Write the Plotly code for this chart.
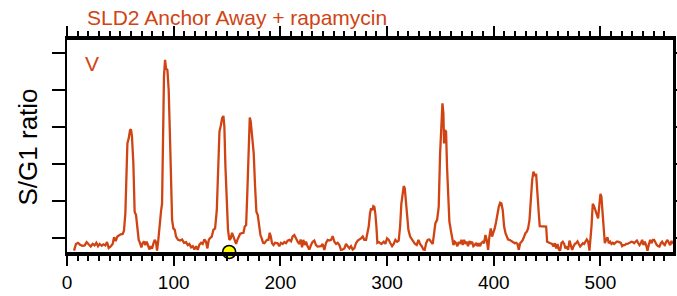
import plotly.graph_objects as go

# Position along chromosome (kb) and S/G1 ratio
pos_kb = [
    6.6, 8.4, 10.3, 12.2, 14.4, 16.6, 18.4, 20.3, 22.2, 24.1, 25.9, 27.5, 29.1, 30.6, 32.5, 34.1, 35.9, 37.5, 39.1, 40.9,
    42.8, 44.1, 45.6, 47.2, 48.8, 50.3, 52.2, 53.4, 54.7, 55.6, 56.6, 57.8, 59.1, 60.0, 60.9, 62.2, 63.4, 64.7, 65.9, 67.2,
    68.4, 69.7, 70.9, 72.2, 73.4, 74.7, 75.9, 77.2, 78.4, 79.7, 80.9, 82.2, 83.4, 84.4, 85.6, 86.9, 88.1, 89.1, 90.0, 90.9,
    91.9, 92.8, 94.1, 95.3, 96.6, 97.8,
    98.5, 99.7, 101.0, 102.2, 104.1, 106.0, 107.9, 109.7, 111.6, 113.2, 114.7, 116.3, 117.9, 119.4, 121.0, 122.5, 124.1,
    125.7, 127.2, 128.8, 130.3, 131.6, 132.9, 134.1, 135.7, 137.2, 138.8, 140.4, 141.6, 142.9, 144.1, 145.4, 146.6, 147.5,
    148.5, 149.7, 150.9, 152.2, 153.5, 154.7, 156.0, 157.2, 158.5, 159.7, 161.0, 162.2, 163.8, 165.4, 166.6, 167.9, 169.1,
    170.4, 171.3, 172.2, 173.2, 174.1, 175.0, 176.3, 177.5, 178.8, 180.0, 181.3, 182.5, 183.8, 185.0, 186.3, 187.5, 188.8,
    190.0, 191.0, 192.2, 193.5, 195.0,
    197.5, 199.0, 200.6, 202.2, 203.7, 205.3, 206.8, 208.4, 210.0, 211.5, 213.1, 214.7, 216.2, 217.8, 219.0, 220.3, 221.5,
    222.8, 224.0, 225.6, 227.1, 228.7, 230.3, 231.8, 233.4, 234.9, 236.5, 238.1, 239.6, 241.2, 242.8, 244.3, 245.9, 247.5,
    249.0, 250.6, 252.2, 253.7, 255.3, 256.8, 258.4, 260.0, 261.5, 263.1, 264.7, 266.2, 267.8, 269.3, 270.9, 272.5, 274.0,
    275.6, 277.2, 278.7, 280.3, 281.5, 282.8, 284.0, 285.0, 286.2, 287.1, 288.1, 289.0, 290.0, 290.9, 292.2, 293.4, 294.7,
    296.9, 298.4, 300.0, 301.6, 303.1, 304.7, 306.2, 307.8, 309.4, 310.9, 312.2, 313.4, 314.7, 315.6, 316.6, 317.5, 318.7,
    320.0, 321.6, 323.1, 324.7, 326.2, 327.8, 329.4, 330.9, 332.5, 334.1, 335.3, 336.6, 338.1, 339.7, 341.2, 342.8, 344.1,
    345.3, 346.9, 348.4, 349.7, 350.9, 351.9, 352.8, 353.4, 354.4, 355.3, 356.2, 357.2, 358.4, 359.7, 360.9, 362.2, 363.4,
    364.7, 365.9, 367.2, 368.4, 369.7, 370.9, 372.2, 373.4, 374.7, 375.9, 377.2, 378.4, 379.7, 380.9, 382.2, 383.4, 384.7,
    385.9, 387.2, 388.4, 389.7, 390.9, 392.2, 393.4, 394.7,
    395.9, 397.2, 398.4, 399.7, 400.9, 402.2, 403.4, 404.7, 406.0, 407.2, 408.4, 409.7, 411.0, 412.2, 413.4, 414.7, 416.0,
    417.2, 418.4, 419.7, 420.9, 422.2, 423.5, 424.7, 426.0, 427.2, 428.5, 429.7, 431.0, 432.2, 433.5, 434.7, 436.0, 437.2,
    438.5, 439.7, 441.0, 442.2, 443.1, 444.7, 446.3, 447.8, 449.1, 450.0, 451.6, 453.1, 454.7, 456.0, 457.2, 458.5, 459.7,
    461.0, 462.2, 463.5, 464.7, 466.0, 467.2, 468.5, 469.7, 471.0, 472.2, 473.5, 474.7, 476.0, 477.2, 478.5, 479.7, 481.0,
    482.2, 483.5, 484.7, 486.0, 487.2, 488.5, 489.7,
    491.6, 492.8, 494.0, 495.3, 496.6, 497.8, 499.1, 500.0, 500.9, 501.9, 502.8, 504.1, 505.3, 506.6, 507.8, 509.1, 510.3,
    511.6, 512.8, 514.1, 515.3, 516.6, 517.8, 519.1, 520.3, 521.6, 522.8, 524.1, 525.3, 526.6, 527.8, 529.1, 530.3, 531.6,
    532.8, 534.1, 535.3, 536.6, 537.8, 539.1, 540.3, 541.6, 542.8, 544.1, 545.3, 546.6, 547.8, 549.1, 550.3, 551.6, 552.8,
    554.1, 555.3, 556.6, 557.8, 559.1, 560.3, 561.6, 562.8, 564.1, 565.3, 566.6, 567.8,
]
sg1_ratio = [
    0.966, 0.984, 0.987, 0.982, 0.979, 0.980, 0.989, 0.982, 0.977, 0.984, 0.980, 0.987, 0.978, 0.984, 0.979, 0.983, 0.980, 0.989, 0.973, 0.977,
    0.984, 1.002, 0.992, 1.004, 1.007, 1.010, 1.011, 1.020, 1.066, 1.156, 1.255, 1.268, 1.291, 1.293, 1.273, 1.201, 1.071, 1.062, 1.022, 0.995,
    0.987, 0.975, 0.986, 0.991, 0.981, 0.990, 0.981, 0.969, 0.978, 0.971, 0.984, 0.995, 0.989, 0.966, 0.995, 1.044, 1.071, 1.093, 1.264, 1.435,
    1.480, 1.457, 1.453, 1.399, 1.264, 1.129,
    1.049, 1.026, 1.022, 1.004, 0.995, 0.993, 0.996, 0.987, 0.989, 0.981, 0.984, 0.975, 0.978, 0.969, 0.978, 0.968, 0.982,
    0.987, 0.984, 0.996, 0.990, 0.972, 0.995, 1.000, 1.004, 1.022, 1.026, 1.075, 1.192, 1.287, 1.302, 1.323, 1.329, 1.300,
    1.192, 1.093, 1.022, 0.995, 0.999, 1.014, 1.004, 0.990, 0.984, 0.995, 1.005, 1.011, 1.013, 1.014, 1.031, 1.035, 1.129,
    1.264, 1.325, 1.314, 1.273, 1.264, 1.228, 1.138, 1.071, 1.062, 1.031, 1.008, 0.999, 0.987, 0.986, 0.990, 0.995, 0.995,
    1.014, 1.004, 0.986, 0.981, 0.987,
    0.986, 0.978, 0.987, 0.984, 0.989, 0.986, 0.993, 0.995, 0.991, 1.004, 1.008, 0.996, 0.990, 0.984, 0.996, 0.975, 0.995,
    0.981, 0.990, 0.977, 0.969, 0.981, 0.990, 0.993, 0.981, 0.977, 0.978, 0.978, 0.984, 0.968, 0.987, 0.995, 0.993, 0.995,
    1.005, 0.990, 0.984, 0.987, 0.981, 0.968, 0.969, 0.972, 0.984, 0.978, 0.972, 0.978, 0.969, 0.972, 0.986, 0.993, 0.995,
    0.999, 1.004, 0.995, 0.995, 1.013, 1.031, 1.066, 1.080, 1.075, 1.086, 1.084, 1.066, 1.031, 0.987, 0.989, 0.987, 0.984,
    0.990, 0.984, 0.999, 0.995, 0.986, 0.978, 0.984, 0.995, 0.990, 0.993, 1.031, 1.093, 1.120, 1.140, 1.134, 1.102, 1.049,
    1.022, 1.004, 0.996, 0.990, 0.984, 0.981, 0.995, 0.984, 0.978, 0.969, 0.968, 0.986, 0.995, 0.996, 0.990, 0.984, 1.013,
    1.040, 1.049, 1.084, 1.228, 1.318, 1.363, 1.336, 1.255, 1.291, 1.287, 1.192, 1.120, 1.044, 1.022, 1.004, 0.981, 0.990,
    0.986, 0.978, 0.990, 0.984, 0.995, 0.981, 0.995, 0.984, 0.990, 0.978, 0.992, 0.984, 0.990, 0.978, 0.981, 0.987, 0.978,
    0.986, 0.978, 0.987, 0.990, 0.986, 1.008, 0.995, 0.968,
    1.004, 1.026, 1.004, 1.013, 1.026, 1.044, 1.066, 1.084, 1.095, 1.093, 1.075, 1.031, 1.013, 1.004, 0.996, 0.995, 0.993,
    0.990, 0.990, 0.986, 0.987, 0.984, 0.968, 0.986, 0.990, 0.995, 1.004, 1.013, 1.017, 1.026, 1.049, 1.102, 1.156, 1.179,
    1.167, 1.173, 1.129, 1.066, 1.032, 1.032, 1.032, 1.032, 1.031, 0.990, 0.987, 0.986, 0.984, 0.977, 0.986, 0.972, 0.984,
    0.969, 0.966, 0.987, 0.990, 0.984, 0.972, 0.977, 0.968, 0.993, 0.981, 0.968, 0.977, 0.984, 0.986, 0.991, 0.984, 0.977,
    0.981, 0.986, 0.984, 0.990, 0.996, 0.990, 0.966,
    1.031, 1.092, 1.086, 1.075, 1.065, 1.053, 1.093, 1.119, 1.111, 1.066, 1.031, 0.986, 0.996, 1.002, 0.986, 0.990, 0.984,
    0.987, 0.984, 0.987, 0.990, 0.990, 0.989, 0.987, 0.978, 0.981, 0.981, 0.984, 0.984, 0.986, 0.987, 0.990, 0.989, 0.986,
    0.990, 0.993, 0.987, 0.981, 0.986, 0.995, 0.981, 0.990, 0.981, 0.966, 0.981, 0.995, 0.986, 0.995, 0.995, 0.987, 0.981,
    0.978, 0.977, 0.986, 0.990, 0.984, 0.981, 0.990, 0.995, 0.987, 0.981, 0.992, 0.984,
]

marker_pos = [152]
x_tickvals = [0, 100, 200, 300, 400, 500]
y_tickvals = [1.0, 1.1, 1.2, 1.3, 1.4, 1.5]
title_text = "SLD2 Anchor Away + rapamycin"
panel_label = "V"
y_title = "S/G1 ratio"

X_RANGE = [0, 568]
Y_RANGE = [0.9623, 1.5337]
RED = "#D04413"
FONT = "Liberation Sans, Arial, Helvetica, sans-serif"

fig = go.Figure()
fig.add_trace(go.Scatter(x=pos_kb, y=sg1_ratio, mode="lines",
                         line=dict(color=RED, width=2.3), hoverinfo="skip", showlegend=False))
fig.add_trace(go.Scatter(x=marker_pos, y=[Y_RANGE[0]] * len(marker_pos), mode="markers",
                         marker=dict(color="#FFFF00", size=13, line=dict(color="black", width=1.6)),
                         cliponaxis=False, showlegend=False))

fig.update_layout(
    width=677, height=296,
    margin=dict(l=67, r=4, t=40, b=44, autoexpand=False),
    paper_bgcolor="white", plot_bgcolor="white",
    font=dict(family=FONT, color="black"),
    xaxis=dict(range=X_RANGE, tickvals=x_tickvals, showgrid=False, zeroline=False, automargin=False,
               showline=True, linewidth=3.5, linecolor="black",
               ticks="outside", ticklen=10, tickwidth=2, tickcolor="black",
               minor=dict(dtick=10, tick0=0, ticks="outside", ticklen=5, tickwidth=1.5, tickcolor="black"),
               tickfont=dict(size=19, family=FONT, color="black")),
    xaxis2=dict(range=X_RANGE, overlaying="x", side="top", showgrid=False, zeroline=False, automargin=False,
                showline=True, linewidth=3.5, linecolor="black", showticklabels=False,
                tickvals=x_tickvals, ticks="outside", ticklen=10, tickwidth=2, tickcolor="black",
                minor=dict(dtick=10, tick0=0, ticks="outside", ticklen=5, tickwidth=1.5, tickcolor="black")),
    yaxis=dict(range=Y_RANGE, tickvals=y_tickvals, showticklabels=False, showgrid=False, zeroline=False,
               automargin=False, showline=True, linewidth=2.2, linecolor="black",
               ticks="outside", ticklen=13, tickwidth=2, tickcolor="black"),
    yaxis2=dict(range=Y_RANGE, overlaying="y", side="right", tickvals=y_tickvals, showticklabels=False,
                automargin=False, showgrid=False, zeroline=False, showline=True, linewidth=2.5, linecolor="black",
                ticks="outside", ticklen=5, tickwidth=2, tickcolor="black"),
)
# invisible trace to activate the secondary (top/right) axes
fig.add_trace(go.Scatter(x=[X_RANGE[0]], y=[Y_RANGE[0]], xaxis="x2", yaxis="y2", mode="markers",
                         marker=dict(opacity=0), hoverinfo="skip", showlegend=False))

fig.add_annotation(text=title_text, xref="paper", yref="paper", x=(85 - 67) / 606, y=1.104,
                   xanchor="left", yanchor="middle", showarrow=False,
                   font=dict(size=21, color=RED, family=FONT))
fig.add_annotation(text=panel_label, xref="paper", yref="paper", x=(91.5 - 67) / 606, y=(252 - 64) / 212,
                   xanchor="center", yanchor="middle", showarrow=False,
                   font=dict(size=21, color=RED, family=FONT))
fig.add_annotation(text=y_title, xref="paper", yref="paper", x=(28 - 67) / 606, y=0.493,
                   xanchor="center", yanchor="middle", showarrow=False, textangle=-90,
                   font=dict(size=26, color="black", family=FONT))

fig.write_html("out.html", config={"displayModeBar": False},
               post_script="document.body.style.margin='0';document.body.style.padding='0';")
